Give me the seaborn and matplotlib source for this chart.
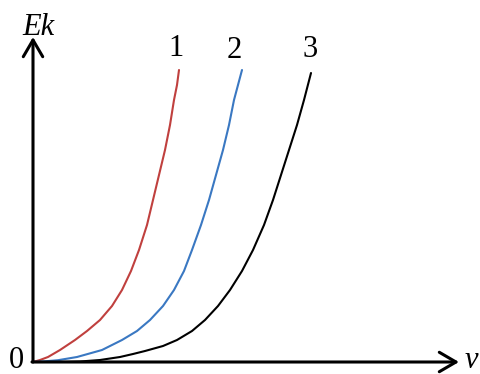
import numpy as np
import pandas as pd
import seaborn as sns
import matplotlib.pyplot as plt

# curve points (v, Ek)
v_1 = [0, 7, 15, 27, 42, 54, 67, 79, 89, 98, 106, 114, 120, 126, 132, 137, 141, 144, 146]
ek_1 = [0, 2, 5, 12, 22, 31, 42, 56, 72, 91, 112, 137, 162, 187, 212, 237, 262, 277, 292]
v_2 = [0, 12, 25, 44, 69, 89, 104, 117, 130, 141, 151, 159, 168, 176, 183, 190, 196, 201, 205, 209]
ek_2 = [0, 0.7, 1.8, 5, 12, 22, 31, 42, 56, 72, 91, 112, 137, 162, 187, 212, 237, 262, 277, 292]
v_3 = [0, 30, 47, 67, 87, 100, 112, 130, 144, 159, 172, 185, 197, 209, 220, 231, 240, 248, 256, 264, 271, 278]
ek_3 = [0, 0.1, 0.5, 2, 5, 8, 11, 16, 22, 31, 42, 56, 72, 91, 112, 137, 162, 187, 212, 237, 262, 289]
curve_labels = ['1', '2', '3']
curve_colors = ['#c0403e', '#3a78c2', '#000000']

sns.set_style('white')
plt.rcParams['font.family'] = ['Liberation Serif', 'DejaVu Serif']
plt.rcParams['text.color'] = 'black'

df = pd.concat([
    pd.DataFrame({'v': v, 'Ek': e, 'curve': lab})
    for v, e, lab in zip([v_1, v_2, v_3], [ek_1, ek_2, ek_3], curve_labels)
])

fig = plt.figure(figsize=(4.81, 3.74), dpi=100)
ax = fig.add_axes([0, 0, 1, 1])

sns.lineplot(data=df, x='v', y='Ek', hue='curve', palette=curve_colors,
             sort=False, estimator=None, lw=1.5, legend=False, ax=ax)

ax.set_xlim(-33, 448)
ax.set_ylim(-12, 362)
ax.set_axis_off()

# axes with open arrow heads
arrow = dict(arrowstyle='->,head_length=0.6,head_width=0.35', lw=2.2,
             color='black', mutation_scale=20, shrinkA=0, shrinkB=0)
ax.annotate('', xy=(0, 325), xytext=(0, 0), arrowprops=arrow)
ax.annotate('', xy=(426, 0), xytext=(-1, 0), arrowprops=arrow)

ax.text(5, 335, 'Ek', fontsize=22, style='italic', ha='center', va='center')
ax.text(438, 1, 'v', fontsize=22, style='italic', ha='center', va='center')
ax.text(-17, 2, '0', fontsize=22, ha='center', va='center')

for lab, x, y in zip(curve_labels, [143, 201, 277], [314, 312, 313]):
    ax.text(x, y, lab, fontsize=22, ha='center', va='center')

fig.savefig('out.png', dpi=100)
